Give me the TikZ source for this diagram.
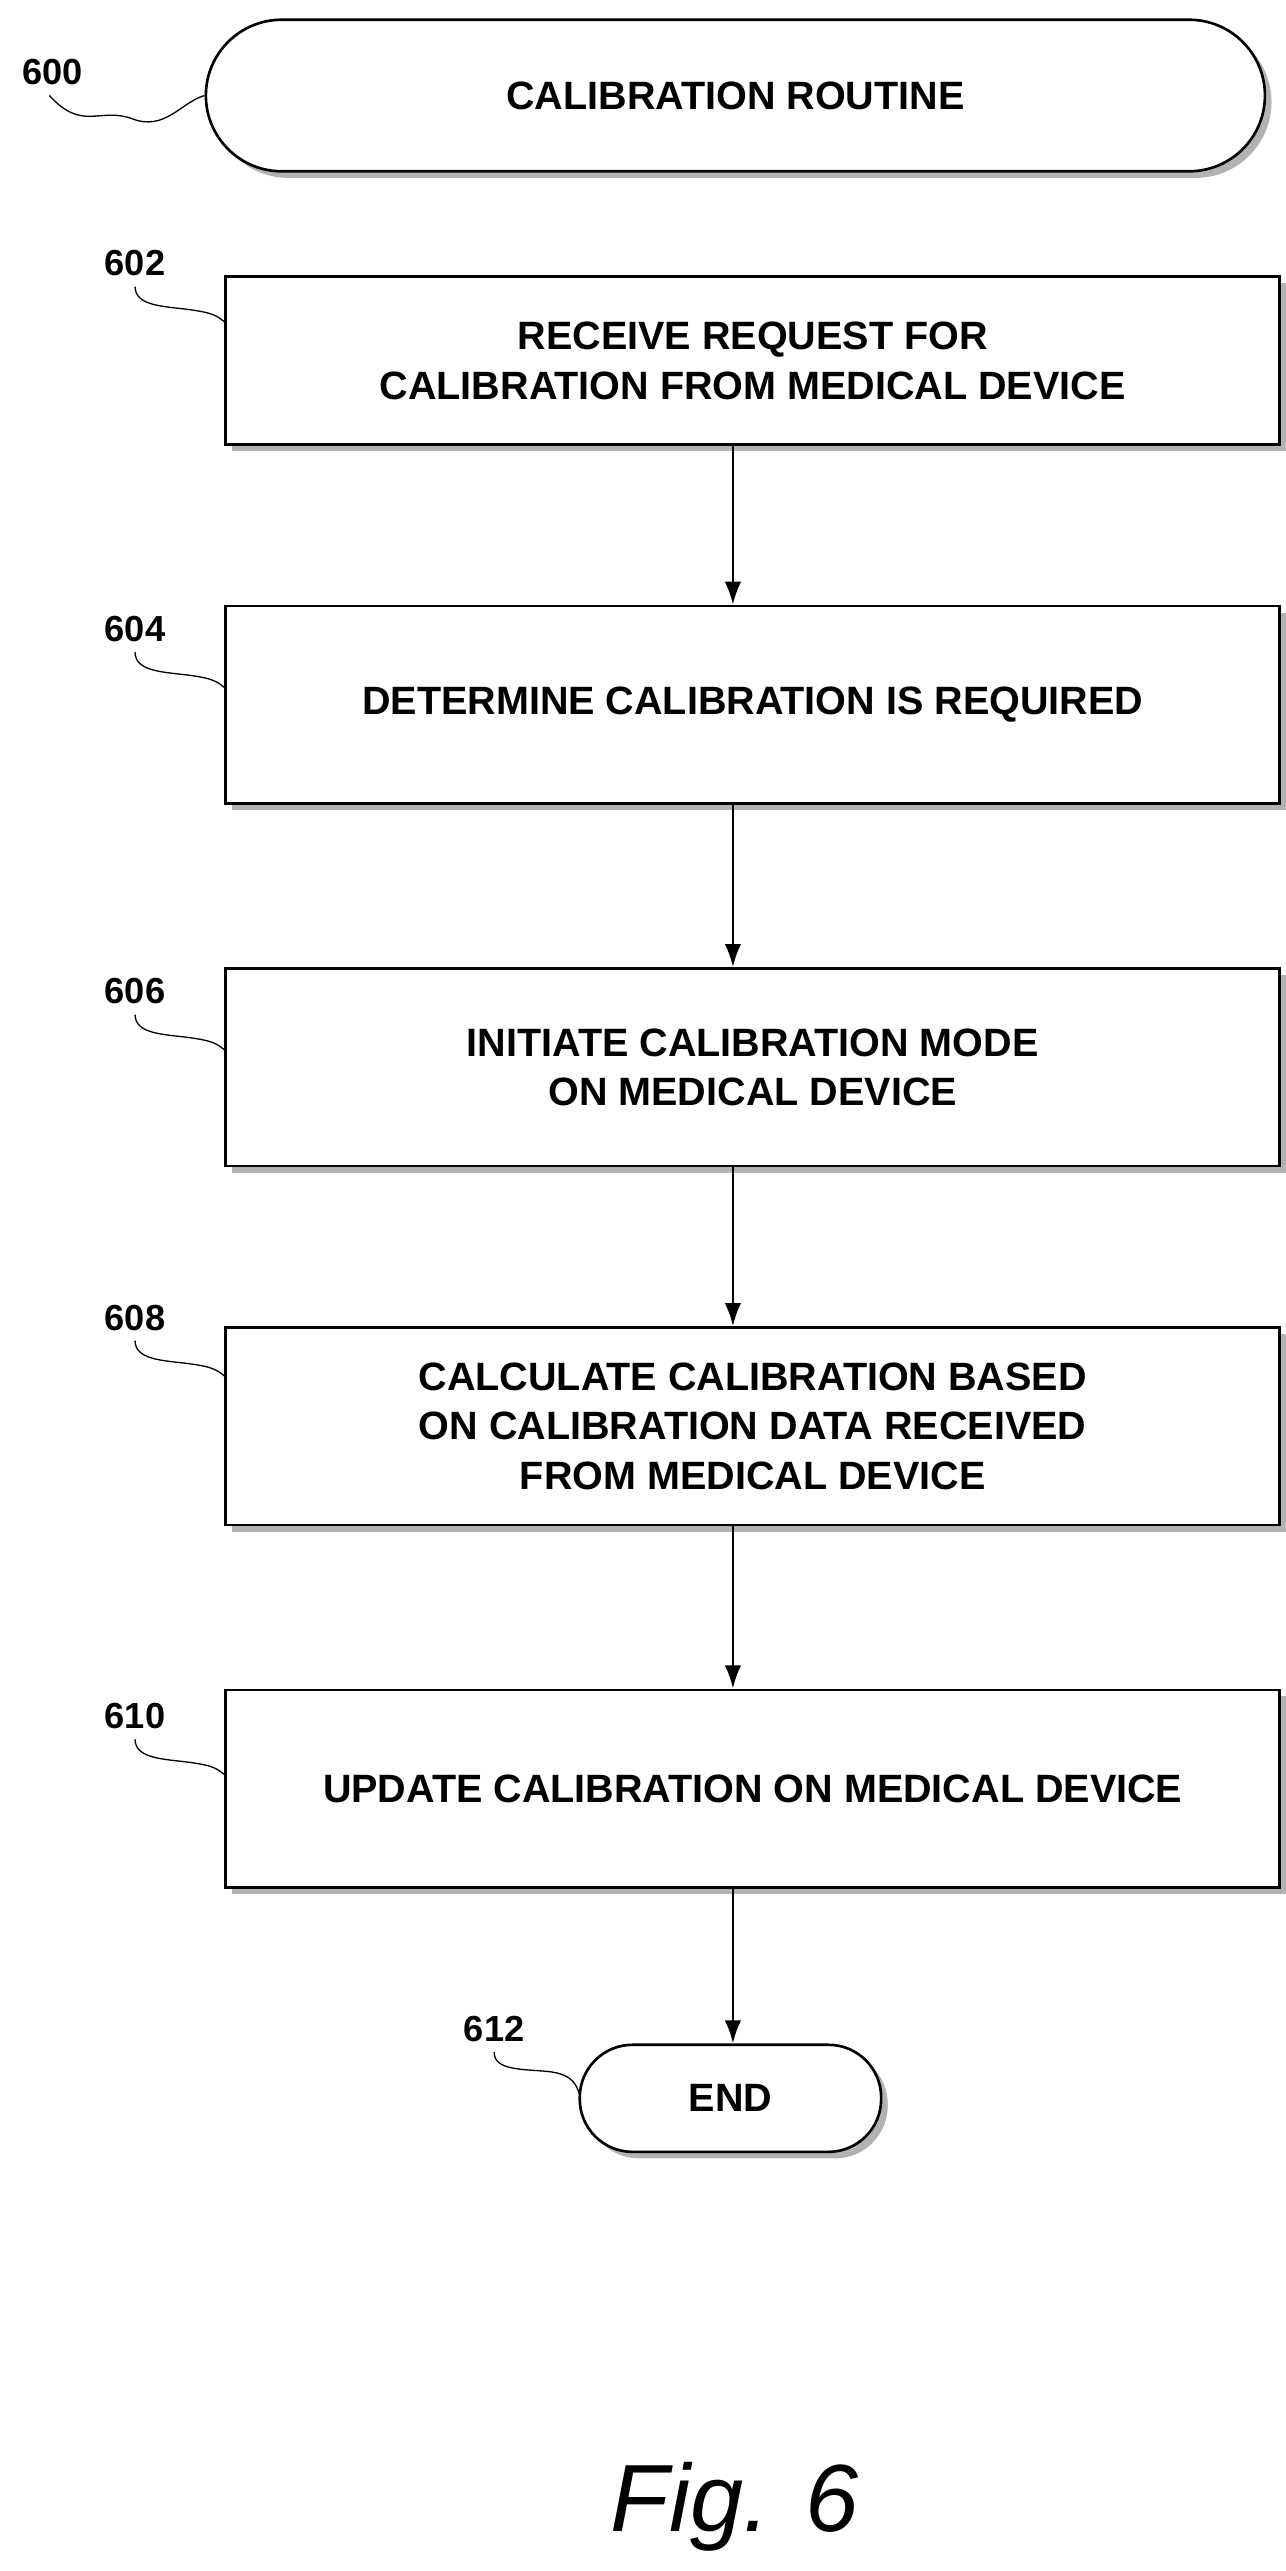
\documentclass[tikz,border=0pt]{standalone}
\usepackage{fontspec}
\setmainfont{Liberation Sans}
\usetikzlibrary{shadows,arrows.meta}
\begin{document}
\begin{tikzpicture}[x=0.5pt,y=-0.5pt,
  sh/.style={drop shadow={shadow xshift=2pt,shadow yshift=-2pt,fill=gray!60,opacity=1}},
  box/.style={draw,thick,fill=white,sh,minimum width=320pt,minimum height=60pt,align=center,font=\bfseries\fontsize{12}{15}\selectfont},
  term/.style={draw,thick,fill=white,sh,rounded corners=23pt,align=center,font=\bfseries\fontsize{12}{15}\selectfont},
  lab/.style={font=\bfseries\fontsize{11}{13}\selectfont},
  arr/.style={thick,-{Latex[length=7pt,width=5pt]}},
  sq/.style={thin}]
\useasboundingbox (0,0) rectangle (780.5,1561);
\node[term,minimum width=321.5pt,minimum height=46pt] (t) at (446.5,58) {CALIBRATION ROUTINE};
\node[box,minimum height=51pt] (b602) at (457,219) {RECEIVE REQUEST FOR\\CALIBRATION FROM MEDICAL DEVICE};
\node[box] (b604) at (457,428) {DETERMINE CALIBRATION IS REQUIRED};
\node[box] (b606) at (457,648) {INITIATE CALIBRATION MODE\\ON MEDICAL DEVICE};
\node[box] (b608) at (457,866) {CALCULATE CALIBRATION BASED\\ON CALIBRATION DATA RECEIVED\\FROM MEDICAL DEVICE};
\node[box] (b610) at (457,1086) {UPDATE CALIBRATION ON MEDICAL DEVICE};
\node[term,minimum width=91.5pt,minimum height=32.5pt,rounded corners=16pt] (e) at (443.5,1274) {END};
\draw[arr] (b602.south-|445,0) -- (b604.north-|445,0);
\draw[arr] (b604.south-|445,0) -- (b606.north-|445,0);
\draw[arr] (b606.south-|445,0) -- (b608.north-|445,0);
\draw[arr] (b608.south-|445,0) -- (b610.north-|445,0);
\draw[arr] (b610.south-|445,0) -- (e.north-|445,0);
\node[lab] (l600) at (32,44) {600};
\node[lab] (l602) at (82,160) {602};
\node[lab] (l604) at (82,382) {604};
\node[lab] (l606) at (82,602) {606};
\node[lab] (l608) at (82,800) {608};
\node[lab] (l610) at (82,1042) {610};
\node[lab] (l612) at (300,1232) {612};
\node[font=\itshape\fontsize{29}{34}\selectfont] (fig) at (446,1522) {Fig. 6};
\draw[sq] (30,58) .. controls (50,80) and (60,65) .. (80,72) .. controls (100,80) and (110,62) .. (t.west);
\foreach \n/\b/\y in {602/b602/160,604/b604/382,606/b606/602,608/b608/800,610/b610/1042}{
  \coordinate (s\n) at (82,\y+14);
  \coordinate (e\n) at (137,\y+36);
  \draw[sq] (s\n) .. controls ++(0,12) and (100,\y+26) .. (115,\y+28) .. controls (130,\y+30) and (132,\y+32) .. (e\n);
}
\coordinate (s612) at (300,1246);
\draw[sq] (s612) .. controls (300,1258) and (320,1256) .. (335,1258) .. controls (348,1260) and (350,1266) .. (352,1272);
\end{tikzpicture}
\end{document}
